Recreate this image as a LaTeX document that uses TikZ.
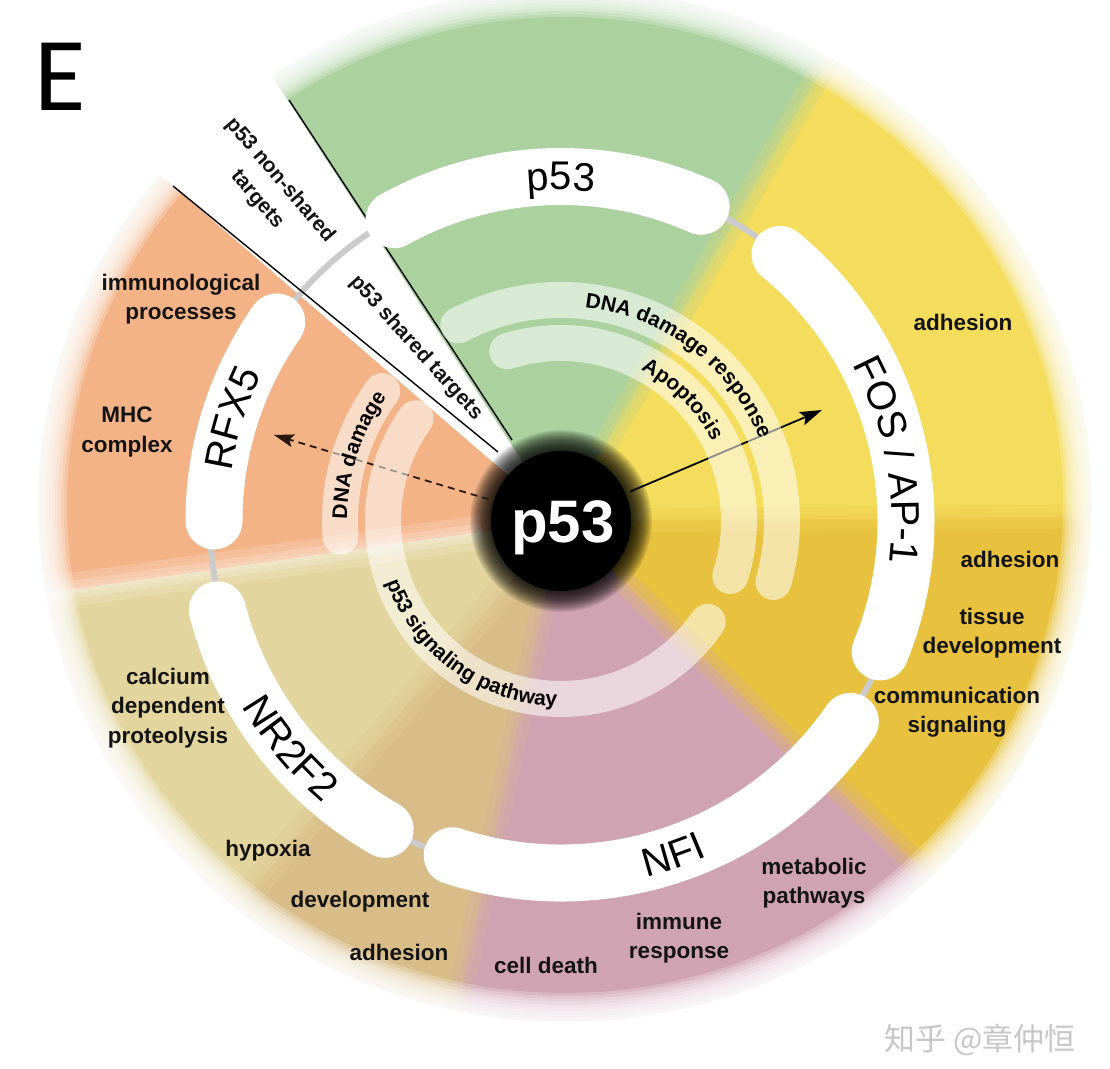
\documentclass[tikz,border=0pt]{standalone}
\usepackage{fontspec}
\setmainfont{Liberation Sans}
\newfontfamily\cjkfont{Noto Sans CJK SC}
\newfontfamily\efont{Carlito}
\usetikzlibrary{decorations.text,arrows.meta}
\definecolor{cgreen}{HTML}{AAD19E}
\definecolor{cyellow}{HTML}{F4DC5C}
\definecolor{cgold}{HTML}{E8C23E}
\definecolor{cpink}{HTML}{D0A3B3}
\definecolor{ctanL}{HTML}{E3D59E}
\definecolor{ctanD}{HTML}{D9BD88}
\definecolor{corange}{HTML}{F3B387}
\definecolor{cring}{HTML}{CBCBCB}
\newcommand\myTF{\fontsize{40}{40}\selectfont}
\newcommand\myArc{\bfseries\fontsize{21}{21}\selectfont}
\begin{document}
\begin{tikzpicture}[x=1pt,y=1pt,
  lbl/.style={font=\bfseries\fontsize{22.5}{29.5}\selectfont, align=center, text=black!92, inner sep=0pt},
  tfband/.style={white, line width=57pt, line cap=round},
  setband/.style={white, opacity=0.55, line width=36pt, line cap=round},
  gapline/.style={cring, line width=6pt},
  wedgeline/.style={black, line width=1.4pt},
  blend/.style={line width=#1, opacity=0.45},
]
\useasboundingbox (0,0) rectangle (1110,1068);
\fill[white] (0,0) rectangle (1110,1068);
\begin{scope}[shift={(561,547)}]
% sectors
\fill[cyellow] (0,0) -- (0.5:620pt) arc[start angle=0.5, end angle=60, radius=620pt] -- cycle;
\fill[cgreen] (0,0) -- (60:620pt) arc[start angle=60, end angle=123, radius=620pt] -- cycle;
\fill[corange] (0,0) -- (139.2:620pt) arc[start angle=139.2, end angle=188, radius=620pt] -- cycle;
\fill[ctanL] (0,0) -- (188:620pt) arc[start angle=188, end angle=230, radius=620pt] -- cycle;
\fill[ctanD] (0,0) -- (230:620pt) arc[start angle=230, end angle=258, radius=620pt] -- cycle;
\fill[cpink] (0,0) -- (258:620pt) arc[start angle=258, end angle=316, radius=620pt] -- cycle;
\fill[cgold] (0,0) -- (316:620pt) arc[start angle=316, end angle=360.5, radius=620pt] -- cycle;
% soft boundaries between sectors
\draw[blend=24pt, draw=cgreen!50!cyellow] (60:80pt) -- (60:560pt);
\draw[blend=10pt, draw=cgreen!50!cyellow] (60:80pt) -- (60:560pt);
\draw[blend=24pt, draw=cyellow!50!cgold] (0.5:80pt) -- (0.5:560pt);
\draw[blend=10pt, draw=cyellow!50!cgold] (0.5:80pt) -- (0.5:560pt);
\draw[blend=24pt, draw=cgold!50!cpink] (316:80pt) -- (316:560pt);
\draw[blend=10pt, draw=cgold!50!cpink] (316:80pt) -- (316:560pt);
\draw[blend=24pt, draw=cpink!50!ctanD] (258:80pt) -- (258:560pt);
\draw[blend=10pt, draw=cpink!50!ctanD] (258:80pt) -- (258:560pt);
\draw[blend=28pt, draw=ctanD!50!ctanL] (230:80pt) -- (230:560pt);
\draw[blend=12pt, draw=ctanD!50!ctanL] (230:80pt) -- (230:560pt);
% pale streak between orange and tan
\draw[white, opacity=0.16, line width=34pt] (188:80pt) -- (188:560pt);
\draw[white, opacity=0.2, line width=18pt] (188:80pt) -- (188:560pt);
\draw[white, opacity=0.12, line width=7pt] (188:80pt) -- (188:560pt);
% soft outer edge (slightly elliptic disc)
\foreach \k in {0,...,9} {
  \pgfmathsetmacro\rx{498+3*\k}
  \pgfmathsetmacro\ry{488+3*\k}
  \fill[white, opacity=0.22, even odd rule] (4,16) ellipse[x radius=720pt, y radius=720pt] (4,16) ellipse[x radius=\rx pt, y radius=\ry pt];
}
\fill[white, even odd rule] (4,16) ellipse[x radius=800pt, y radius=800pt] (4,16) ellipse[x radius=527pt, y radius=517pt];
% gray ring pieces
\draw[gapline] (119:346pt) arc[start angle=119, end angle=145, radius=346pt];
\draw[gapline] (180:351pt) arc[start angle=180, end angle=194.5, radius=351pt];
\draw[gapline] (240.3:353.5pt) arc[start angle=240.3, end angle=252, radius=353.5pt];
\draw[gapline] (325.3:348.5pt) arc[start angle=325.3, end angle=337.7, radius=348.5pt];
\draw[gapline] (50.6:345pt) arc[start angle=50.6, end angle=66, radius=345pt];
% wedge lines
\coordinate (l1a) at (-49,81); \coordinate (l1b) at (-272,421);
\draw[wedgeline] (l1a) -- (l1b);
\coordinate (l2a) at (-63,69); \coordinate (l2b) at (-388,335);
\draw[wedgeline] (l2a) -- (l2b);
% black hub with soft halo
\foreach \k in {1,...,20} {\fill[black, opacity=0.08] (0,0) circle[radius={69+1.1*\k}];}
\fill[black] (0,0) circle[radius=70pt];
\node[circle, minimum size=150pt, inner sep=0pt] (hub) at (0,0) {};
\node[anchor=base, text=white, font=\bfseries\fontsize{60}{60}\selectfont, inner sep=0pt] (hublabel) at (2,-22) {p53};
% arrows
\coordinate (fosTip) at (261,111);
\draw[line width=1.8pt, -{Stealth[length=22pt, width=14pt, inset=4pt]}] (hub) -- (fosTip);
\coordinate (rfxTip) at (-287,86);
\draw[line width=1.8pt, dash pattern=on 7pt off 5pt, draw=black!80!brown, -{Stealth[length=20pt, width=13pt, inset=4pt]}] (hub) -- (rfxTip);
% gene-set bands
\draw[setband] (117.7:221pt) arc[start angle=117.7, end angle=-16, radius=221pt];
\draw[setband] (107.6:178pt) arc[start angle=107.6, end angle=-18, radius=178pt];
\draw[setband] (144:221pt) arc[start angle=144, end angle=184, radius=221pt];
\draw[setband] (144.8:178pt) arc[start angle=144.8, end angle=325.5, radius=178pt];
\path[decorate, decoration={text along path, text={|\myArc|DNA damage response}, text align=center}] (113:215pt) arc[start angle=113, end angle=-7, radius=215pt];
\path[decorate, decoration={text along path, text={|\myArc|Apoptosis}, text align=center}] (105:171pt) arc[start angle=105, end angle=-15, radius=171pt];
\path[decorate, decoration={text along path, text={|\myArc|DNA damage}, text align=center}] (202:214pt) arc[start angle=202, end angle=122, radius=214pt];
\path[decorate, decoration={text along path, text={|\myArc|p53 signaling pathway}, text align=center}] (174:185pt) arc[start angle=174, end angle=294, radius=185pt];
% TF bands
\draw[tfband] (119:344.5pt) arc[start angle=119, end angle=66, radius=344.5pt];
\draw[tfband] (50.6:345pt) arc[start angle=50.6, end angle=-22.3, radius=345pt];
\draw[tfband] (252:352pt) arc[start angle=252, end angle=325.3, radius=352pt];
\draw[tfband] (194.5:355pt) arc[start angle=194.5, end angle=240.3, radius=355pt];
\draw[tfband] (145:347pt) arc[start angle=145, end angle=180, radius=347pt];
\path[decorate, decoration={text along path, text={|\myTF|p53}, text align=center}] (130:331pt) arc[start angle=130, end angle=50, radius=331pt];
\path[decorate, decoration={text along path, text={|\myTF|FOS / AP-1}, text align=center}] (50.5:331pt) arc[start angle=50.5, end angle=-29.5, radius=331pt];
\path[decorate, decoration={text along path, text={|\myTF|NFI}, text align=center}] (248.6:366pt) arc[start angle=248.6, end angle=328.6, radius=366pt];
\path[decorate, decoration={text along path, text={|\myTF|NR2F2}, text align=center}] (180:369pt) arc[start angle=180, end angle=260, radius=369pt];
\path[decorate, decoration={text along path, text={|\myTF|RFX5}, text align=center}] (202.7:333pt) arc[start angle=202.7, end angle=122.7, radius=333pt];
% labels
\node[lbl] (immuno) at (-380,222) {immunological\\processes};
\node[lbl] (mhc) at (-434,89) {MHC\\complex};
\node[lbl, font=\bfseries\fontsize{21}{30}\selectfont, rotate=-49.5] (nonshared) at (-292.5,331) {p53 non-shared\\targets};
\node[lbl, font=\bfseries\fontsize{21}{21}\selectfont, rotate=-47.8] (shared) at (-145,173) {p53 shared targets};
\node[lbl] (adhA) at (402,199) {adhesion};
\node[lbl] (adhB) at (449,-38) {adhesion};
\node[lbl] (tissue) at (431,-112) {tissue\\development};
\node[lbl] (comm) at (396,-191) {communication\\signaling};
\node[lbl] (metab) at (253,-362) {metabolic\\pathways};
\node[lbl] (immresp) at (118,-417) {immune\\response};
\node[lbl] (celldeath) at (-15,-444) {cell death};
\node[lbl] (adhC) at (-162,-431) {adhesion};
\node[lbl] (devel) at (-201,-381) {development};
\node[lbl] (hypoxia) at (-293,-330) {hypoxia};
\node[lbl] (calcium) at (-393,-187) {calcium\\dependent\\proteolysis};
\end{scope}
\node[font=\efont\fontsize{105}{105}\selectfont, inner sep=0pt] (panelE) at (60,991) {E};
\node[font=\cjkfont\fontsize{31}{31}\selectfont, text=black!22] (wm) at (980,28) {知乎 @章仲恒};
\end{tikzpicture}
\end{document}
